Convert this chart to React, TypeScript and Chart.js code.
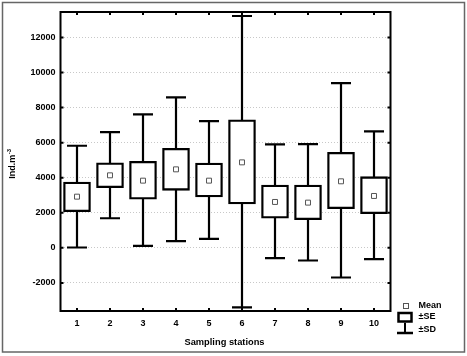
import React, { useEffect, useRef } from 'react';
import { Chart, registerables } from 'chart.js';

Chart.register(...registerables);

const stations = ['1', '2', '3', '4', '5', '6', '7', '8', '9', '10'];
const means = [2920, 4137, 3833, 4478, 3833, 4876, 2618, 2580, 3795, 2960];
const seLow = [2068, 3432, 2771, 3283, 2903, 2504, 1688, 1612, 2238, 1954];
const seHigh = [3756, 4855, 4932, 5673, 4838, 7303, 3586, 3586, 5446, 4060];
const sdLow = [20, 1688, 114, 380, 512, -3397, -588, -721, -1689, -645];
const sdHigh = [5823, 6602, 7608, 8576, 7228, 13221, 5900, 5919, 9391, 6640];
const yTicks = [-2000, 0, 2000, 4000, 6000, 8000, 10000, 12000];
const yMin = -3600;
const yMax = 13450;

const FONT = '"Liberation Sans", Arial, sans-serif';

const extrasPlugin = {
  id: 'boxExtras',
  beforeDraw(chart: any) {
    const ctx = chart.ctx;
    ctx.save();
    ctx.fillStyle = '#ffffff';
    ctx.fillRect(0, 0, chart.width, chart.height);
    ctx.restore();
  },
  beforeDatasetsDraw(chart: any) {
    const { ctx, scales } = chart;
    const x = scales.x;
    const y = scales.y;
    ctx.save();
    ctx.strokeStyle = '#000';
    ctx.lineWidth = 2.2;
    stations.forEach((_, i) => {
      const px = x.getPixelForValue(i);
      const yl = y.getPixelForValue(sdLow[i]);
      const yh = y.getPixelForValue(sdHigh[i]);
      ctx.beginPath();
      ctx.moveTo(px, yl);
      ctx.lineTo(px, yh);
      ctx.moveTo(px - 10, yl);
      ctx.lineTo(px + 10, yl);
      ctx.moveTo(px - 10, yh);
      ctx.lineTo(px + 10, yh);
      ctx.stroke();
    });
    ctx.restore();
  },
  afterDraw(chart: any) {
    const { ctx, chartArea: a, scales } = chart;
    const x = scales.x;
    const y = scales.y;
    ctx.save();
    // plot border
    ctx.strokeStyle = '#000';
    ctx.lineWidth = 2;
    ctx.strokeRect(a.left, a.top, a.right - a.left, a.bottom - a.top);
    // inner tick marks
    ctx.lineWidth = 2;
    ctx.beginPath();
    yTicks.forEach((v) => {
      const py = y.getPixelForValue(v);
      ctx.moveTo(a.left, py);
      ctx.lineTo(a.left + 3, py);
      ctx.moveTo(a.right - 3, py);
      ctx.lineTo(a.right, py);
    });
    stations.forEach((_, i) => {
      const px = x.getPixelForValue(i);
      ctx.moveTo(px, a.top);
      ctx.lineTo(px, a.top + 3);
      ctx.moveTo(px, a.bottom - 3);
      ctx.lineTo(px, a.bottom);
    });
    ctx.stroke();

    // axis titles
    ctx.fillStyle = '#000';
    ctx.font = `bold 9.3px ${FONT}`;
    ctx.textAlign = 'center';
    ctx.textBaseline = 'middle';
    ctx.fillText('Sampling stations', 224.5, 342);

    ctx.save();
    ctx.translate(13, 164);
    ctx.rotate(-Math.PI / 2);
    ctx.font = `bold 9px ${FONT}`;
    const mainW = ctx.measureText('Ind.m').width;
    ctx.font = `bold 6px ${FONT}`;
    const supW = ctx.measureText('-3').width;
    const start = -(mainW + supW) / 2;
    ctx.textAlign = 'left';
    ctx.font = `bold 9px ${FONT}`;
    ctx.fillText('Ind.m', start, 0);
    ctx.font = `bold 6px ${FONT}`;
    ctx.fillText('-3', start + mainW + 0.5, -3.5);
    ctx.restore();

    // legend
    ctx.strokeStyle = '#555';
    ctx.lineWidth = 1;
    ctx.fillStyle = '#fff';
    ctx.fillRect(403.5, 303.5, 5, 5);
    ctx.strokeRect(403.5, 303.5, 5, 5);
    ctx.strokeStyle = '#000';
    ctx.lineWidth = 2.5;
    ctx.strokeRect(398.5, 313, 13, 8.5);
    ctx.lineWidth = 2;
    ctx.beginPath();
    ctx.moveTo(405, 322.7);
    ctx.lineTo(405, 333);
    ctx.stroke();
    ctx.lineWidth = 2.5;
    ctx.beginPath();
    ctx.moveTo(397, 333);
    ctx.lineTo(413, 333);
    ctx.stroke();
    ctx.fillStyle = '#000';
    ctx.font = `bold 9px ${FONT}`;
    ctx.textAlign = 'left';
    ctx.textBaseline = 'middle';
    ctx.fillText('Mean', 418.5, 306);
    ctx.fillText('±SE', 418.5, 317);
    ctx.fillText('±SD', 418.5, 329.5);

    // outer frame
    ctx.strokeStyle = '#666';
    ctx.lineWidth = 1.5;
    ctx.strokeRect(2.5, 2.5, 462, 349.5);
    ctx.restore();
  },
};

export default function App() {
  const ref = useRef<HTMLCanvasElement | null>(null);
  useEffect(() => {
    if (!ref.current) return;
    const chart = new Chart(ref.current, {
      type: 'bar',
      data: {
        labels: stations,
        datasets: [
          {
            type: 'line',
            label: 'Mean',
            data: means,
            showLine: false,
            pointStyle: 'rect',
            pointRadius: 3.5,
            pointBackgroundColor: '#fff',
            pointBorderColor: '#555',
            pointBorderWidth: 1,
            order: 0,
          } as any,
          {
            type: 'bar',
            label: '±SE',
            data: stations.map((_, i) => [seLow[i], seHigh[i]]),
            backgroundColor: '#fff',
            borderColor: '#000',
            borderWidth: 2.3,
            borderSkipped: false,
            barThickness: 27,
            order: 1,
          } as any,
        ],
      },
      options: {
        responsive: false,
        maintainAspectRatio: false,
        animation: false,
        devicePixelRatio: 1,
        layout: { padding: { left: 0, top: 12, right: 76.5, bottom: 0 } },
        plugins: { legend: { display: false }, tooltip: { enabled: false } },
        scales: {
          x: {
            offset: true,
            grid: { display: false, drawTicks: false },
            border: { display: false },
            ticks: {
              padding: 7,
              color: '#000',
              font: { family: FONT, size: 9, weight: 'bold' },
            },
            afterFit: (s: any) => {
              s.height = 45;
            },
          },
          y: {
            min: yMin,
            max: yMax,
            grid: { color: '#c8c8c8', lineWidth: 1, drawTicks: false } as any,
            border: { display: false, dash: [1, 2] } as any,
            ticks: {
              padding: 5,
              color: '#000',
              font: { family: FONT, size: 9, weight: 'bold' },
              callback: (v: any) => String(v),
            },
            afterBuildTicks: (s: any) => {
              s.ticks = yTicks.map((v) => ({ value: v }));
            },
            afterFit: (s: any) => {
              s.width = 60.5;
            },
          },
        },
      } as any,
      plugins: [extrasPlugin],
    });
    return () => chart.destroy();
  }, []);
  return (
    <div style={{ position: 'absolute', left: 0, top: 0, width: 467, height: 356 }}>
      <canvas ref={ref} width={467} height={356} style={{ display: 'block', width: 467, height: 356 }} />
    </div>
  );
}
